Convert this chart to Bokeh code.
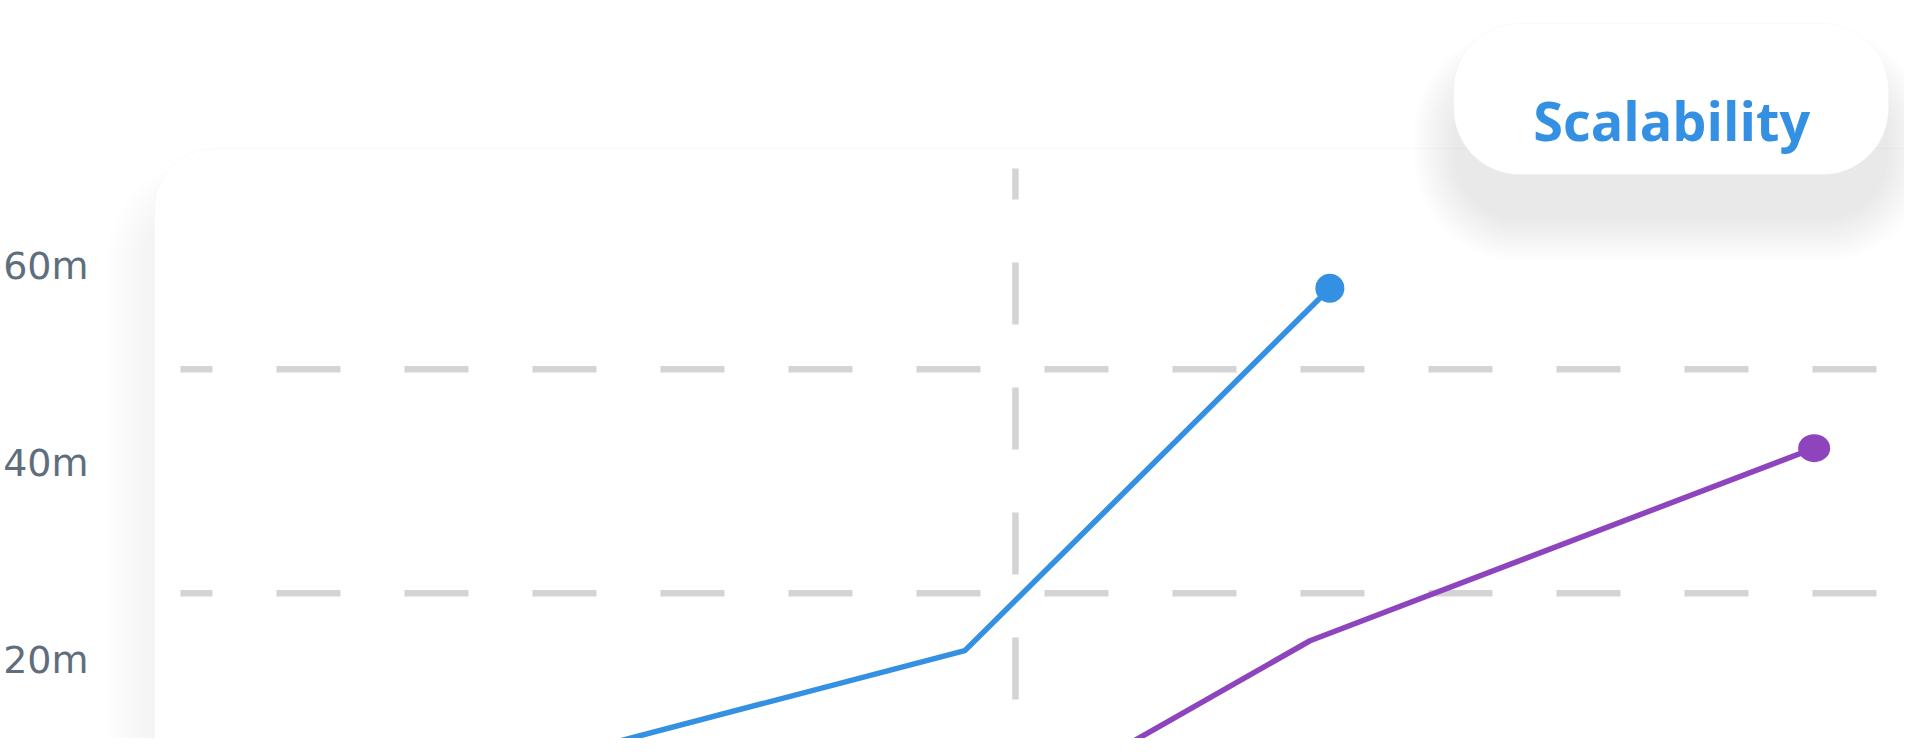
from bokeh.plotting import figure
from bokeh.models import Range1d, BoxAnnotation, FixedTicker
from bokeh.core.properties import value
from bokeh.embed import file_html
from bokeh.resources import INLINE

# ---------------- data ----------------
blue_x = [24.0, 48.0, 68.2]
blue_y = [9.5, 21.0, 57.7]
purple_x = [55.0, 67.1, 95.0]
purple_y = [9.4, 22.0, 41.5]
y_ticks = [20, 40, 60]
y_tick_labels = ["20m", "40m", "60m"]
grid_y = [49.5, 26.8]
guide_x = 50.8
title_text = "Scalability"

# ---------------- style ----------------
BLUE = "#3490e2"
PURPLE = "#8e44bd"
GRID = "#d4d4d4"
LABEL = "#5e6e7d"

W, H = 1904, 738
AXIS_W = 96
X0, X1 = 0.0, 100.0
Y_TOP, Y_BOTTOM = 86.84, 12.10


def px_x(px):
    """picture pixel column -> data x"""
    return X0 + (px - AXIS_W) / (W - AXIS_W) * (X1 - X0)


def px_y(py):
    """picture pixel row -> data y"""
    return Y_TOP - py / H * (Y_TOP - Y_BOTTOM)


p = figure(width=W, height=H, output_backend="svg", toolbar_location=None,
           x_range=Range1d(X0, X1), y_range=Range1d(Y_BOTTOM, Y_TOP),
           x_axis_type=None, min_border_left=AXIS_W, min_border_right=0,
           min_border_top=0, min_border_bottom=0)
p.outline_line_color = None
p.grid.visible = False
p.background_fill_color = "white"
p.border_fill_color = "white"

ax = p.yaxis[0]
ax.ticker = FixedTicker(ticks=y_ticks)
ax.major_label_overrides = {t: s for t, s in zip(y_ticks, y_tick_labels)}
ax.axis_line_color = None
ax.major_tick_line_color = None
ax.minor_tick_line_color = None
ax.major_tick_out = 0
ax.major_tick_in = 0
ax.major_label_standoff = 9
ax.major_label_text_font = "DejaVu Sans"
ax.major_label_text_font_size = "38px"
ax.major_label_text_color = LABEL


def box(l, t, r, b, **kw):
    bx = BoxAnnotation(left=px_x(l), right=px_x(r), top=px_y(t), bottom=px_y(b),
                       level="underlay", **kw)
    p.add_layout(bx)
    return bx


# card shadow (soft, offset down-left)
for e in range(0, 40, 4):
    box(153 - 12 - e, 148 + 50 - e, 1990, 820, fill_color="black", fill_alpha=0.0048,
        line_color=None, border_radius=(60 + e, 0, 0, 0))
# card
box(153, 148, 1990, 820, fill_color="white", fill_alpha=1.0, line_color="#ededed",
    line_width=1, border_radius=(60, 0, 0, 0))

# pill shadow (below the pill)
for e in range(0, 44, 4):
    box(1453 - e, 23 + 46 - e, 1888 + e, 174 + 46 + e, fill_color="black",
        fill_alpha=0.0095, line_color=None, border_radius=66 + e)
# pill
box(1453, 23, 1888, 174, fill_color="white", fill_alpha=1.0, line_color="#f0f0f0",
    line_width=1, border_radius=66)

# dashed guides
for gy in grid_y:
    p.segment(x0=px_x(179), x1=px_x(1878), y0=gy, y1=gy, line_color=GRID,
              line_width=6.5, line_dash="64 64", line_dash_offset=32)
p.segment(x0=guide_x, x1=guide_x, y0=px_y(168), y1=px_y(780), line_color=GRID,
          line_width=6.5, line_dash="62 63", line_dash_offset=31)

# series
p.line(blue_x, blue_y, line_color=BLUE, line_width=5.5, line_join="round")
p.line(purple_x, purple_y, line_color=PURPLE, line_width=5.5, line_join="round")
p.scatter([blue_x[-1]], [blue_y[-1]], size=29, fill_color=BLUE, line_color=None)
p.ellipse(x=[purple_x[-1]], y=[purple_y[-1]], width=32, height=28,
          width_units="screen", height_units="screen", fill_color=PURPLE, line_color=None)

# title in pill
p.text(x=[px_x(1671)], y=[px_y(119)], text=[title_text], text_font=value("Open Sans"),
       text_font_style="bold", text_font_size="54px", text_color=BLUE,
       text_align="center", text_baseline="alphabetic")

open("out.html", "w").write(file_html(p, INLINE))
